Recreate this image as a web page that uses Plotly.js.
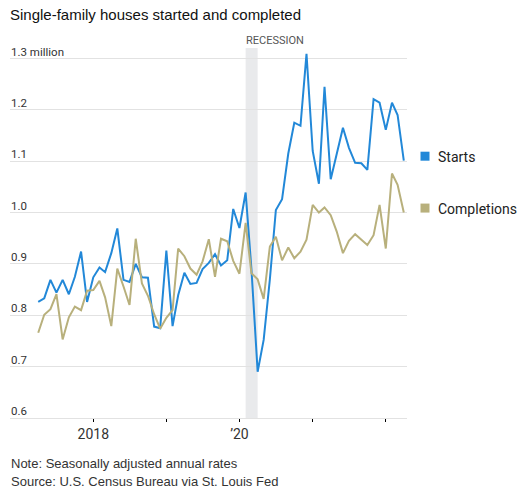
<!DOCTYPE html>
<html>
<head>
<meta charset="utf-8">
<script src="https://cdn.plot.ly/plotly-3.0.1.min.js"></script>
<style>html,body{margin:0;padding:0;background:#fff;}#chart{width:532px;height:500px;}</style>
</head>
<body>
<div id="chart"></div>
<script>
const months = [
"2017-04-01","2017-05-01","2017-06-01","2017-07-01","2017-08-01","2017-09-01","2017-10-01","2017-11-01","2017-12-01",
"2018-01-01","2018-02-01","2018-03-01","2018-04-01","2018-05-01","2018-06-01","2018-07-01","2018-08-01","2018-09-01","2018-10-01","2018-11-01","2018-12-01",
"2019-01-01","2019-02-01","2019-03-01","2019-04-01","2019-05-01","2019-06-01","2019-07-01","2019-08-01","2019-09-01","2019-10-01","2019-11-01","2019-12-01",
"2020-01-01","2020-02-01","2020-03-01","2020-04-01","2020-05-01","2020-06-01","2020-07-01","2020-08-01","2020-09-01","2020-10-01","2020-11-01","2020-12-01",
"2021-01-01","2021-02-01","2021-03-01","2021-04-01","2021-05-01","2021-06-01","2021-07-01","2021-08-01","2021-09-01","2021-10-01","2021-11-01","2021-12-01",
"2022-01-01","2022-02-01","2022-03-01","2022-04-01"];

const starts = [
0.826,0.833,0.869,0.844,0.869,0.841,0.875,0.924,0.826,
0.874,0.893,0.884,0.921,0.969,0.869,0.865,0.900,0.874,0.873,0.778,0.775,
0.926,0.779,0.839,0.883,0.861,0.863,0.890,0.902,0.919,0.897,0.907,1.007,
0.970,1.039,0.890,0.690,0.752,0.870,1.005,1.026,1.115,1.175,1.169,1.309,
1.120,1.056,1.245,1.065,1.112,1.165,1.126,1.097,1.096,1.083,1.221,1.214,
1.161,1.214,1.190,1.101];

const completions = [
0.766,0.801,0.812,0.841,0.753,0.796,0.817,0.810,0.848,
0.849,0.867,0.835,0.779,0.891,0.856,0.820,0.949,0.862,0.838,0.802,0.774,
0.795,0.810,0.930,0.915,0.891,0.879,0.905,0.948,0.875,0.949,0.944,0.906,
0.881,0.980,0.882,0.870,0.832,0.934,0.953,0.907,0.932,0.911,0.924,0.947,
1.015,1.000,1.010,0.995,0.963,0.921,0.945,0.958,0.947,0.937,0.956,1.015,
0.930,1.076,1.054,1.000];

const yTickVals = [0.6,0.7,0.8,0.9,1.0,1.1,1.2,1.3];
const yTickText = ["0.6","0.7","0.8","0.9","1.0","1.1","1.2","1.3 million"];
const xTickVals = ["2018-01-01","2019-01-01","2020-01-01","2021-01-01","2022-01-01"];
const xTickText = ["2018","","\u201920","",""];
const recession = ["2020-02-01","2020-04-01"];
const seriesNames = ["Starts","Completions"];
const colors = ["#2288d8","#b8b07c"];

const W = 532, H = 500;
const L = 10, R = 125, T = 48, B = 82;
const plotW = W - L - R, plotH = H - T - B;
const px2paperX = p => (p - L) / plotW;
const px2paperY = p => (H - B - p) / plotH;

const font = "Roboto, 'Liberation Sans', Arial, sans-serif";
const wide = "'Liberation Sans', Arial, sans-serif";
const txt = "#333333";

const traces = [
  {x: months, y: starts, type: "scatter", mode: "lines", name: seriesNames[0],
   line: {color: colors[0], width: 2}, hoverinfo: "skip"},
  {x: months, y: completions, type: "scatter", mode: "lines", name: seriesNames[1],
   line: {color: colors[1], width: 2}, hoverinfo: "skip"}
];

const annotations = [];
yTickVals.forEach((v, k) => {
  annotations.push({xref: "paper", yref: "y", x: 0, y: v, xanchor: "left", yanchor: "bottom",
    text: yTickText[k], showarrow: false, yshift: -2, xshift: -1,
    font: {family: font, size: 11.5, color: txt}});
});
annotations.push({xref: "x", yref: "paper", x: recession[0], y: 1, xanchor: "left", yanchor: "bottom",
  text: "RECESSION", showarrow: false, xshift: -2, yshift: -1,
  font: {family: font, size: 11, color: "#555"}});
const lastS = starts[starts.length - 1], lastC = completions[completions.length - 1];
[[lastS, seriesNames[0]], [lastC, seriesNames[1]]].forEach(([v, name]) => {
  annotations.push({xref: "paper", yref: "y", x: px2paperX(436), y: v, xanchor: "left", yanchor: "middle",
    text: name, showarrow: false, yshift: 4,
    font: {family: font, size: 14, color: "#222"}});
});
annotations.push({xref: "paper", yref: "paper", x: 0, y: px2paperY(463), xanchor: "left", yanchor: "middle",
  text: "Note: Seasonally adjusted annual rates", showarrow: false, xshift: -1,
  font: {family: wide, size: 13, color: txt}});
annotations.push({xref: "paper", yref: "paper", x: 0, y: px2paperY(481), xanchor: "left", yanchor: "middle",
  text: "Source: U.S. Census Bureau via St. Louis Fed", showarrow: false, xshift: -1,
  font: {family: wide, size: 13, color: txt}});

const shapes = [
  {type: "rect", xref: "x", yref: "paper", x0: recession[0], x1: recession[1], y0: 0, y1: 1,
   fillcolor: "#e9eaec", line: {width: 0}, layer: "below"}
];
[[lastS, colors[0]], [lastC, colors[1]]].forEach(([v, c]) => {
  shapes.push({type: "rect", xref: "paper", yref: "y", xsizemode: "pixel", ysizemode: "pixel",
    xanchor: px2paperX(425), yanchor: v, x0: -4.5, x1: 4.5, y0: 0, y1: 9,
    fillcolor: c, line: {width: 0}});
});

const layout = {
  width: W, height: H,
  margin: {l: L, r: R, t: T, b: B, pad: 0},
  paper_bgcolor: "#fff", plot_bgcolor: "#fff",
  showlegend: false,
  title: {text: "Single-family houses started and completed", xref: "container", yref: "container",
    x: 10 / W, xanchor: "left", y: 1 - 15 / H, yanchor: "middle",
    font: {family: wide, size: 15, color: "#111"}},
  xaxis: {type: "date", range: ["2016-11-11", "2022-04-17"], showgrid: false, zeroline: false,
    tickvals: xTickVals, ticktext: xTickText, ticks: "outside", ticklen: 3, tickwidth: 1, tickcolor: "#000",
    showline: true, linecolor: "#e2e2e2", linewidth: 1,
    tickfont: {family: font, size: 14, color: txt}, fixedrange: true},
  yaxis: {range: [0.6, 0.6 + 0.7 * plotH / 359.5], tickvals: yTickVals, showticklabels: false,
    showgrid: true, gridcolor: "#e2e2e2", gridwidth: 1, zeroline: false, ticks: "", fixedrange: true},
  annotations: annotations,
  shapes: shapes
};

Plotly.newPlot("chart", traces, layout, {displayModeBar: false, staticPlot: true});
</script>
</body>
</html>
